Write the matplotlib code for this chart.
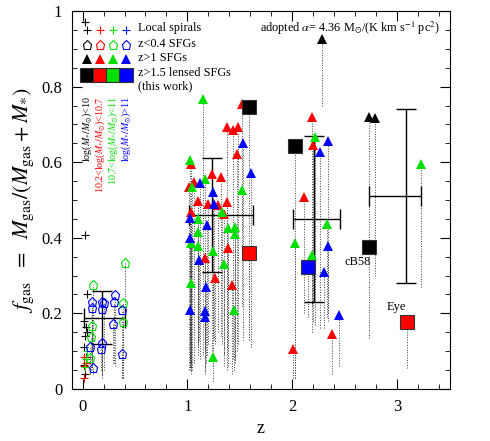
import numpy as np
import matplotlib.pyplot as plt

plt.rcParams['font.family'] = ['Liberation Serif', 'DejaVu Serif']
plt.rcParams['mathtext.fontset'] = 'stix'

# z>1 SFGs (triangles): redshift, top f_gas, bottom of dotted range
red_z = np.array([1.52,1.38,1.43,1.48,1.47,1.03,1.23,1.32,1.06,1.01,1.10,1.20,1.29,1.38,1.03,1.35,1.17,1.39,1.26,1.42,2.19,2.20,2.11,2.38,2.01])
red_f = np.array([0.755,0.694,0.686,0.694,0.622,0.596,0.570,0.560,0.548,0.535,0.498,0.490,0.487,0.495,0.469,0.464,0.347,0.373,0.294,0.275,0.720,0.646,0.509,0.146,0.106])
red_lo = np.array([0.42,0.05,0.08,0.12,0.10,0.06,0.10,0.14,0.07,0.05,0.09,0.12,0.15,0.11,0.04,0.09,0.10,0.06,0.12,0.04,0.22,0.18,0.20,0.04,0.03])

grn_z = np.array([1.15,1.02,1.17,1.04,1.52,1.10,1.33,1.39,1.45,1.10,1.45,1.03,1.10,1.24,1.35,1.03,1.44,1.24,2.22,2.33,2.02,2.19,3.23])
grn_f = np.array([0.768,0.607,0.556,0.535,0.527,0.450,0.469,0.426,0.429,0.416,0.410,0.387,0.379,0.366,0.331,0.280,0.209,0.085,0.668,0.437,0.387,0.355,0.596])
grn_lo = np.array([0.09,0.06,0.11,0.05,0.22,0.12,0.12,0.10,0.07,0.13,0.08,0.05,0.11,0.14,0.06,0.07,0.05,0.02,0.17,0.19,0.03,0.15,0.27])

blu_z = np.array([1.53,1.61,1.12,1.24,1.25,1.02,1.19,1.02,1.11,1.18,1.02,1.17,1.17,2.34,2.26,2.34,2.30,2.44])
blu_f = np.array([0.652,0.572,0.545,0.522,0.490,0.453,0.434,0.400,0.342,0.270,0.209,0.207,0.190,0.657,0.628,0.379,0.310,0.196])
blu_lo = np.array([0.13,0.11,0.08,0.06,0.13,0.07,0.09,0.05,0.13,0.07,0.06,0.05,0.04,0.18,0.16,0.20,0.16,0.06])

blk_z = np.array([2.28,2.73,2.79])
blk_f = np.array([0.925,0.720,0.718])
blk_lo = np.array([0.75,0.38,0.30])

# lensed SFGs (this work)
sq_z = np.array([1.59,1.59,2.02,2.15,2.73,3.09])
sq_f = np.array([0.747,0.360,0.644,0.323,0.376,0.178])
sq_lo = np.array([0.13,0.13,0.03,0.19,0.135,0.056])
sq_col = ['k','r','k','b','k','r']

# z<0.4 SFGs (pentagons)
pg_z = np.array([0.40,0.10,0.39,0.39,0.09,0.08,0.07])
pg_f = np.array([0.334,0.275,0.228,0.178,0.167,0.138,0.082])
pg_lo = np.array([0.19,0.10,0.03,0.03,0.05,0.05,0.04])
pb_z = np.array([0.31,0.09,0.19,0.20,0.30,0.09,0.19,0.38,0.29,0.19,0.07,0.18,0.38,0.10])
pb_f = np.array([0.249,0.230,0.230,0.228,0.230,0.215,0.212,0.209,0.172,0.122,0.111,0.106,0.093,0.056])
pb_lo = np.array([0.06,0.08,0.03,0.05,0.07,0.06,0.04,0.03,0.07,0.04,0.04,0.05,0.03,0.04])

# local spirals
ls_k_z = np.array([0.02,0.02,0.04,0.01,0.03,0.02,0.04,0.01,0.03,0.01,0.02])
ls_k_f = np.array([0.970,0.408,0.250,0.180,0.165,0.140,0.150,0.110,0.085,0.063,0.040])
ls_r_z = np.array([0.01,0.01,0.01,0.03])
ls_r_f = np.array([0.085,0.060,0.030,0.070])
ls_g_z = np.array([0.03,0.02,0.04])
ls_g_f = np.array([0.080,0.058,0.100])

# binned means
bin_z = np.array([0.19,1.23,2.21,3.08])
bin_f = np.array([0.188,0.46,0.45,0.51])
bin_zlo = np.array([0.01,1.01,2.01,2.73])
bin_zhi = np.array([0.40,1.62,2.45,3.23])
bin_flo = np.array([0.12,0.31,0.23,0.28])
bin_fhi = np.array([0.26,0.61,0.67,0.74])

fig = plt.figure(figsize=(4.9,4.41), dpi=100)
ax = fig.add_axes([0.147,0.118,0.771,0.857])
dot = (0,(1,1.6))

for z, f, lo in [(red_z,red_f,red_lo),(grn_z,grn_f,grn_lo),(blu_z,blu_f,blu_lo),
                 (blk_z,blk_f,blk_lo),(sq_z,sq_f,sq_lo),(pg_z,pg_f,pg_lo),(pb_z,pb_f,pb_lo)]:
    ax.vlines(z, lo, f, colors='0.25', linestyles=dot, lw=0.7, zorder=1)

ax.errorbar(bin_z, bin_f, xerr=[bin_z-bin_zlo, bin_zhi-bin_z], yerr=[bin_f-bin_flo, bin_fhi-bin_f],
            fmt='none', ecolor='k', elinewidth=1, capsize=7, capthick=1, zorder=2)

ax.plot(ls_k_z, ls_k_f, '+', color='k', ms=6, mew=0.8, zorder=3)
ax.plot(ls_r_z, ls_r_f, '+', color='r', ms=6, mew=0.8, zorder=3)
ax.plot(ls_g_z, ls_g_f, '+', color='#00e000', ms=6, mew=0.8, zorder=3)
ax.plot(pg_z, pg_f, 'p', mfc='none', mec='#00e000', ms=6.5, mew=0.8, zorder=3)
ax.plot(pb_z, pb_f, 'p', mfc='none', mec='b', ms=6.5, mew=0.8, zorder=3)
ax.plot(red_z, red_f, '^', color='r', ms=7.5, mew=0, zorder=4)
ax.plot(grn_z, grn_f, '^', color='#00e000', ms=7.5, mew=0, zorder=4)
ax.plot(blu_z, blu_f, '^', color='b', ms=7.5, mew=0, zorder=4)
ax.plot(blk_z, blk_f, '^', color='k', ms=7.5, mew=0, zorder=4)
for z, f, c in zip(sq_z, sq_f, sq_col):
    ax.plot(z, f, 's', mfc=c, mec='#333333', ms=9.5, mew=0.8, zorder=5)

ax.text(2.62, 0.335, 'cB58', fontsize=9, ha='center', va='center')
ax.text(2.99, 0.218, 'Eye', fontsize=9, ha='center', va='center')

# legend drawn by hand
lx = [0.040, 0.074, 0.108, 0.143]
lc = ['k','r','#00e000','b']
for x, c in zip(lx, lc):
    ax.plot(x, 0.951, '+', color=c, ms=6, mew=0.8, transform=ax.transAxes)
    ax.plot(x, 0.909, 'p', mfc='none', mec=c, ms=6.5, mew=0.8, transform=ax.transAxes)
    ax.plot(x, 0.872, '^', color=c, ms=7.5, mew=0, transform=ax.transAxes)
    ax.plot(x, 0.830, 's', mfc=c, mec='#333333', ms=10, mew=0.8, transform=ax.transAxes)
fs = 8.8
ax.text(0.175, 0.955, 'Local spirals', fontsize=fs, transform=ax.transAxes, va='center')
ax.text(0.175, 0.912, 'z<0.4 SFGs', fontsize=fs, transform=ax.transAxes, va='center')
ax.text(0.175, 0.875, 'z>1 SFGs', fontsize=fs, transform=ax.transAxes, va='center')
ax.text(0.175, 0.835, 'z>1.5 lensed SFGs', fontsize=fs, transform=ax.transAxes, va='center')
ax.text(0.175, 0.802, '(this work)', fontsize=fs, transform=ax.transAxes, va='center')
mlabels = [r'log($M_{*}/M_{\odot}$)<10', r'10.2<log($M_{*}/M_{\odot}$)<10.7',
           r'10.7<log($M_{*}/M_{\odot}$)<11', r'log($M_{*}/M_{\odot}$)>11']
for x, c, s in zip(lx, lc, mlabels):
    ax.text(x, 0.775, s, color=c, fontsize=7.2, rotation=90, ha='center', va='top', transform=ax.transAxes)
ax.text(0.975, 0.955, r'adopted $\alpha$= 4.36 M$_{\odot}$/(K km s$^{-1}$ pc$^{2}$)', fontsize=fs,
        ha='right', va='center', transform=ax.transAxes)

ax.set_xlim(-0.1, 3.5)
ax.set_ylim(0, 1)
ax.set_xticks([0,1,2,3])
ax.set_xticks(np.arange(0, 3.5, 0.2), minor=True)
ax.set_yticks([0,0.2,0.4,0.6,0.8,1])
ax.set_yticklabels(['0','0.2','0.4','0.6','0.8','1'])
ax.set_yticks(np.arange(0, 1.0, 0.05), minor=True)
ax.tick_params(which='both', direction='in', top=True, right=True, labelsize=12, pad=7)
ax.tick_params(which='major', length=7)
ax.tick_params(which='minor', length=3.5)
ax.set_xlabel('z', fontsize=13, labelpad=4)
ax.set_ylabel(r'$f_{\rm gas}\ \ =\ \ M_{\rm gas}/(M_{\rm gas}+M_{*})$', fontsize=16, labelpad=4)
fig.savefig('out.png', dpi=100)
